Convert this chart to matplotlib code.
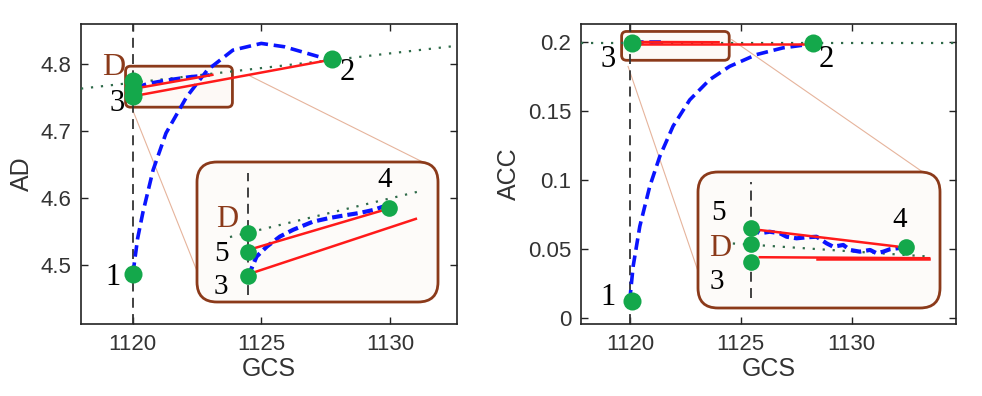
import numpy as np
import matplotlib.pyplot as plt
from matplotlib.patches import FancyBboxPatch

plt.rcParams['font.family'] = ['Liberation Sans', 'DejaVu Sans']

# --- colori ---
GREEN = '#14a84b'
DOTG = '#2f6b4a'
BLUE = '#0a14ff'
RED = '#ff1a1a'
BROWN = '#8b3a1a'
LINK = '#e6b49c'

# ---------------- pannello sinistro (AD) ----------------
ad_xlim = (1118.0, 1132.6)
ad_ylim = (4.412, 4.86)
ad_xticks = [1120, 1125, 1130]
ad_yticks = [4.5, 4.6, 4.7, 4.8]

ad_blue_x = [1120.0, 1120.05, 1120.2, 1120.4, 1120.8, 1121.3, 1122.1, 1122.9, 1123.9, 1125.0, 1125.9, 1126.8, 1127.7]
ad_blue_y = [4.487, 4.497, 4.54, 4.578, 4.642, 4.697, 4.751, 4.791, 4.821, 4.831, 4.826, 4.816, 4.806]
ad_blue2_x = [1120.1, 1120.6, 1121.3, 1122.2, 1123.0]
ad_blue2_y = [4.765, 4.771, 4.776, 4.781, 4.784]
ad_tan_x = [1118.0, 1132.6]
ad_tan_y = [4.7635, 4.8275]
ad_red1_x = [1120.0, 1123.1]
ad_red1_y = [4.763, 4.784]
ad_red2_x = [1120.0, 1127.75]
ad_red2_y = [4.752, 4.807]
ad_pts_x = [1120.0, 1127.75, 1120.0, 1120.0, 1120.0]
ad_pts_y = [4.487, 4.807, 4.775, 4.763, 4.752]
ad_lab = ['1', '2', '3']
ad_lab_x = [1119.26, 1128.33, 1119.42]
ad_lab_y = [4.482, 4.788, 4.7418]
ad_D = (1119.26, 4.7955)
ad_box = (1119.73, 4.7358, 1123.88, 4.797)  # x0, y0, x1, y1
ad_link1 = ([1120.04, 1122.52], [4.7284, 4.4896])
ad_link2 = ([1124.5, 1131.28], [4.7836, 4.6537])

# ingrandimento sinistro
adz_xlim = (1118.867, 1124.222)
adz_ylim = (4.7441, 4.8027)
adz_vline = [4.747, 4.798]
adz_blue_x = [1120.0, 1120.08, 1120.19, 1120.42, 1120.71, 1121.0, 1121.44, 1121.82, 1122.19, 1122.49, 1122.78, 1123.0]
adz_blue_y = [4.755, 4.7582, 4.7631, 4.7673, 4.7715, 4.7743, 4.7777, 4.7793, 4.7805, 4.7814, 4.7826, 4.784]
adz_tan_x = [1119.6, 1123.76]
adz_tan_y = [4.7713, 4.7902]
adz_red1_x = [1120.1, 1123.0]
adz_red1_y = [4.7664, 4.7825]
adz_red2_x = [1120.1, 1123.73]
adz_red2_y = [4.7563, 4.7789]
adz_pts_x = [1120.0, 1120.0, 1120.0, 1123.13]
adz_pts_y = [4.773, 4.765, 4.755, 4.7835]
adz_lab = ['5', '3', '4']
adz_lab_x = [1119.42, 1119.4, 1123.04]
adz_lab_y = [4.764, 4.7505, 4.795]
adz_D = (1119.53, 4.7785)

# ---------------- pannello destro (ACC) ----------------
acc_xlim = (1117.8, 1134.7)
acc_ylim = (-0.0044, 0.213)
acc_xticks = [1120, 1125, 1130]
acc_yticks = [0, 0.05, 0.1, 0.15, 0.2]
acc_ytlab = ['0', '0.05', '0.1', '0.15', '0.2']

acc_blue_x = [1120.08, 1120.03, 1120.15, 1120.45, 1120.9, 1121.35, 1121.95, 1122.7, 1123.6, 1124.5, 1125.7, 1126.9, 1127.96]
acc_blue_y = [0.012, 0.0181, 0.0374, 0.0664, 0.0954, 0.117, 0.139, 0.158, 0.1727, 0.1823, 0.1908, 0.1957, 0.198]
acc_blue2_x = [1120.1, 1121.6]
acc_blue2_y = [0.2002, 0.2002]
acc_tan_x = [1117.8, 1134.7]
acc_tan_y = [0.1993, 0.1993]
acc_red1_x = [1120.0, 1124.0]
acc_red1_y = [0.2000, 0.1998]
acc_red2_x = [1120.0, 1128.24]
acc_red2_y = [0.1985, 0.1985]
acc_pts_x = [1120.08, 1128.24, 1120.08]
acc_pts_y = [0.012, 0.1993, 0.1993]
acc_lab = ['1', '2', '3']
acc_lab_x = [1119.02, 1128.87, 1119.02]
acc_lab_y = [0.0145, 0.1872, 0.1872]
acc_box = (1119.63, 0.1867, 1124.48, 0.2076)
acc_link1 = ([1119.92, 1123.46], [0.1823, 0.0157])
acc_link2 = ([1124.59, 1133.16], [0.2017, 0.1062])

# ingrandimento destro
accz_xlim = (1118.25, 1126.31)
accz_ylim = (0.18564, 0.21296)
accz_vline = [0.18764, 0.21096]
accz_blue_x = [1120.0, 1120.31, 1120.64, 1120.98, 1121.2, 1121.53, 1121.87, 1122.2, 1122.53, 1122.75,
               1123.09, 1123.31, 1123.64, 1123.98, 1124.2, 1124.42, 1124.64, 1125.1]
accz_blue_y = [0.2018, 0.20064, 0.20096, 0.20064, 0.19996, 0.19964, 0.19984, 0.19996, 0.19864, 0.19796,
               0.1983, 0.1973, 0.19696, 0.1973, 0.19664, 0.19696, 0.19744, 0.1978]
accz_tan_x = [1119.41, 1125.98]
accz_tan_y = [0.1986, 0.19596]
accz_red1_x = [1120.31, 1124.87]
accz_red1_y = [0.2013, 0.1980]
accz_red2_x = [1120.31, 1125.95]
accz_red2_y = [0.19584, 0.19564]
accz_red3_x = [1122.2, 1125.95]
accz_red3_y = [0.19544, 0.19544]
accz_pts_x = [1120.0, 1120.0, 1120.0, 1125.17]
accz_pts_y = [0.2018, 0.1985, 0.1948, 0.1978]
accz_lab = ['5', '3', '4']
accz_lab_x = [1118.92, 1118.89, 1124.98]
accz_lab_y = [0.20464, 0.19096, 0.2033]
accz_D = (1118.98, 0.19764)

W, H = 982, 396


def px_box(x0, y0, x1, y1):
    # rettangolo in pixel (origine in alto a sinistra) -> frazioni di figura
    return [x0 / W, (H - y1) / H, (x1 - x0) / W, (y1 - y0) / H]


def num(ax, s, x, y, size=22, color='black'):
    ax.text(x, y, s, ha='center', va='center', fontsize=size, color=color,
            family=['Liberation Serif', 'DejaVu Serif'], zorder=8)


def style_main(ax, xlim, ylim, xticks, yticks, ylabel, ytlab=None):
    ax.set_xlim(*xlim)
    ax.set_ylim(*ylim)
    ax.set_xticks(xticks)
    ax.set_yticks(yticks)
    if ytlab is not None:
        ax.set_yticklabels(ytlab)
    ax.tick_params(direction='in', length=5, width=1, top=True, right=True,
                   labelsize=16, labelcolor='#333333', color='#222222', pad=7)
    for s in ax.spines.values():
        s.set_linewidth(1.2)
        s.set_color('#222222')
    ax.set_xlabel('GCS', fontsize=18, color='#333333', labelpad=2)
    ax.set_ylabel(ylabel, fontsize=18, color='#333333', labelpad=5)


def draw_panel(ax, d):
    ax.axvline(1120, color='#333333', lw=1.3, dashes=(5.5, 3.5), zorder=2)
    ax.plot(d['tan'][0], d['tan'][1], color=DOTG, lw=1.6, ls=(0, (1, 3.5)), zorder=3)
    ax.plot(d['blue'][0], d['blue'][1], color=BLUE, lw=2.6, dashes=(3.2, 1.6), zorder=4)
    ax.plot(d['blue2'][0], d['blue2'][1], color=BLUE, lw=2.6, dashes=(3.2, 1.6), zorder=4)
    for r in d['red']:
        ax.plot(r[0], r[1], color=RED, lw=1.8, zorder=5)
    ax.plot(d['pts'][0], d['pts'][1], 'o', color=GREEN, ms=13, mec='none', zorder=6)
    x0, y0, x1, y1 = d['box']
    # arrotondamento circolare in pixel
    sx = ax.bbox.width / (ax.get_xlim()[1] - ax.get_xlim()[0])
    sy = ax.bbox.height / (ax.get_ylim()[1] - ax.get_ylim()[0])
    rb = FancyBboxPatch((x0, y0), x1 - x0, y1 - y0,
                        boxstyle='round,pad=0,rounding_size=%f' % (5 / sx),
                        mutation_aspect=sx / sy, fc='#fdf9f6', ec=BROWN, lw=2, zorder=1)
    ax.add_patch(rb)
    for lk in d['links']:
        ax.plot(lk[0], lk[1], color=LINK, lw=0.8, zorder=1)
    for s, x, y in zip(*d['labels']):
        num(ax, s, x, y)
    if d.get('D') is not None:
        num(ax, 'D', d['D'][0], d['D'][1], size=23, color=BROWN)


def draw_zoom(fig, rect_px, d):
    axz = fig.add_axes(px_box(*rect_px))
    axz.set_xlim(*d['xlim'])
    axz.set_ylim(*d['ylim'])
    axz.axis('off')
    wpx = rect_px[2] - rect_px[0]
    hpx = rect_px[3] - rect_px[1]
    bg = FancyBboxPatch((0, 0), 1, 1, boxstyle='round,pad=0,rounding_size=%f' % (20 / wpx),
                        mutation_aspect=wpx / hpx, transform=axz.transAxes,
                        fc='#fdfbf9', ec=BROWN, lw=2, zorder=0, clip_on=False)
    axz.add_patch(bg)
    axz.plot([1120, 1120], d['vline'], color='#333333', lw=1.3, dashes=(5.5, 3.5), zorder=2)
    axz.plot(d['tan'][0], d['tan'][1], color=DOTG, lw=1.6, ls=(0, (1, 3.5)), zorder=3)
    axz.plot(d['blue'][0], d['blue'][1], color=BLUE, lw=3, dashes=(2.5, 1.2), zorder=4)
    for r in d['red']:
        axz.plot(r[0], r[1], color=RED, lw=1.8, zorder=5)
    axz.plot(d['pts'][0], d['pts'][1], 'o', color=GREEN, ms=12, mec='none', zorder=6)
    for s, x, y in zip(*d['labels']):
        num(axz, s, x, y, size=21)
    num(axz, 'D', d['D'][0], d['D'][1], size=22, color=BROWN)


fig = plt.figure(figsize=(W / 100, H / 100), dpi=100)

ax1 = fig.add_axes(px_box(81, 24, 457, 324))
style_main(ax1, ad_xlim, ad_ylim, ad_xticks, ad_yticks, 'AD')
draw_panel(ax1, dict(tan=(ad_tan_x, ad_tan_y), blue=(ad_blue_x, ad_blue_y),
                     blue2=(ad_blue2_x, ad_blue2_y),
                     red=[(ad_red1_x, ad_red1_y), (ad_red2_x, ad_red2_y)],
                     pts=(ad_pts_x, ad_pts_y), box=ad_box, links=[ad_link1, ad_link2],
                     labels=(ad_lab, ad_lab_x, ad_lab_y), D=ad_D))

ax2 = fig.add_axes(px_box(581, 24, 956, 324))
style_main(ax2, acc_xlim, acc_ylim, acc_xticks, acc_yticks, 'ACC', acc_ytlab)
draw_panel(ax2, dict(tan=(acc_tan_x, acc_tan_y), blue=(acc_blue_x, acc_blue_y),
                     blue2=(acc_blue2_x, acc_blue2_y),
                     red=[(acc_red1_x, acc_red1_y), (acc_red2_x, acc_red2_y)],
                     pts=(acc_pts_x, acc_pts_y), box=acc_box, links=[acc_link1, acc_link2],
                     labels=(acc_lab, acc_lab_x, acc_lab_y), D=None))

draw_zoom(fig, (197, 162, 438, 302),
          dict(xlim=adz_xlim, ylim=adz_ylim, vline=adz_vline, tan=(adz_tan_x, adz_tan_y),
               blue=(adz_blue_x, adz_blue_y),
               red=[(adz_red1_x, adz_red1_y), (adz_red2_x, adz_red2_y)],
               pts=(adz_pts_x, adz_pts_y), labels=(adz_lab, adz_lab_x, adz_lab_y), D=adz_D))

draw_zoom(fig, (698, 172, 940, 308),
          dict(xlim=accz_xlim, ylim=accz_ylim, vline=accz_vline, tan=(accz_tan_x, accz_tan_y),
               blue=(accz_blue_x, accz_blue_y),
               red=[(accz_red1_x, accz_red1_y), (accz_red2_x, accz_red2_y), (accz_red3_x, accz_red3_y)],
               pts=(accz_pts_x, accz_pts_y), labels=(accz_lab, accz_lab_x, accz_lab_y), D=accz_D))

fig.savefig('out.png', dpi=100)
